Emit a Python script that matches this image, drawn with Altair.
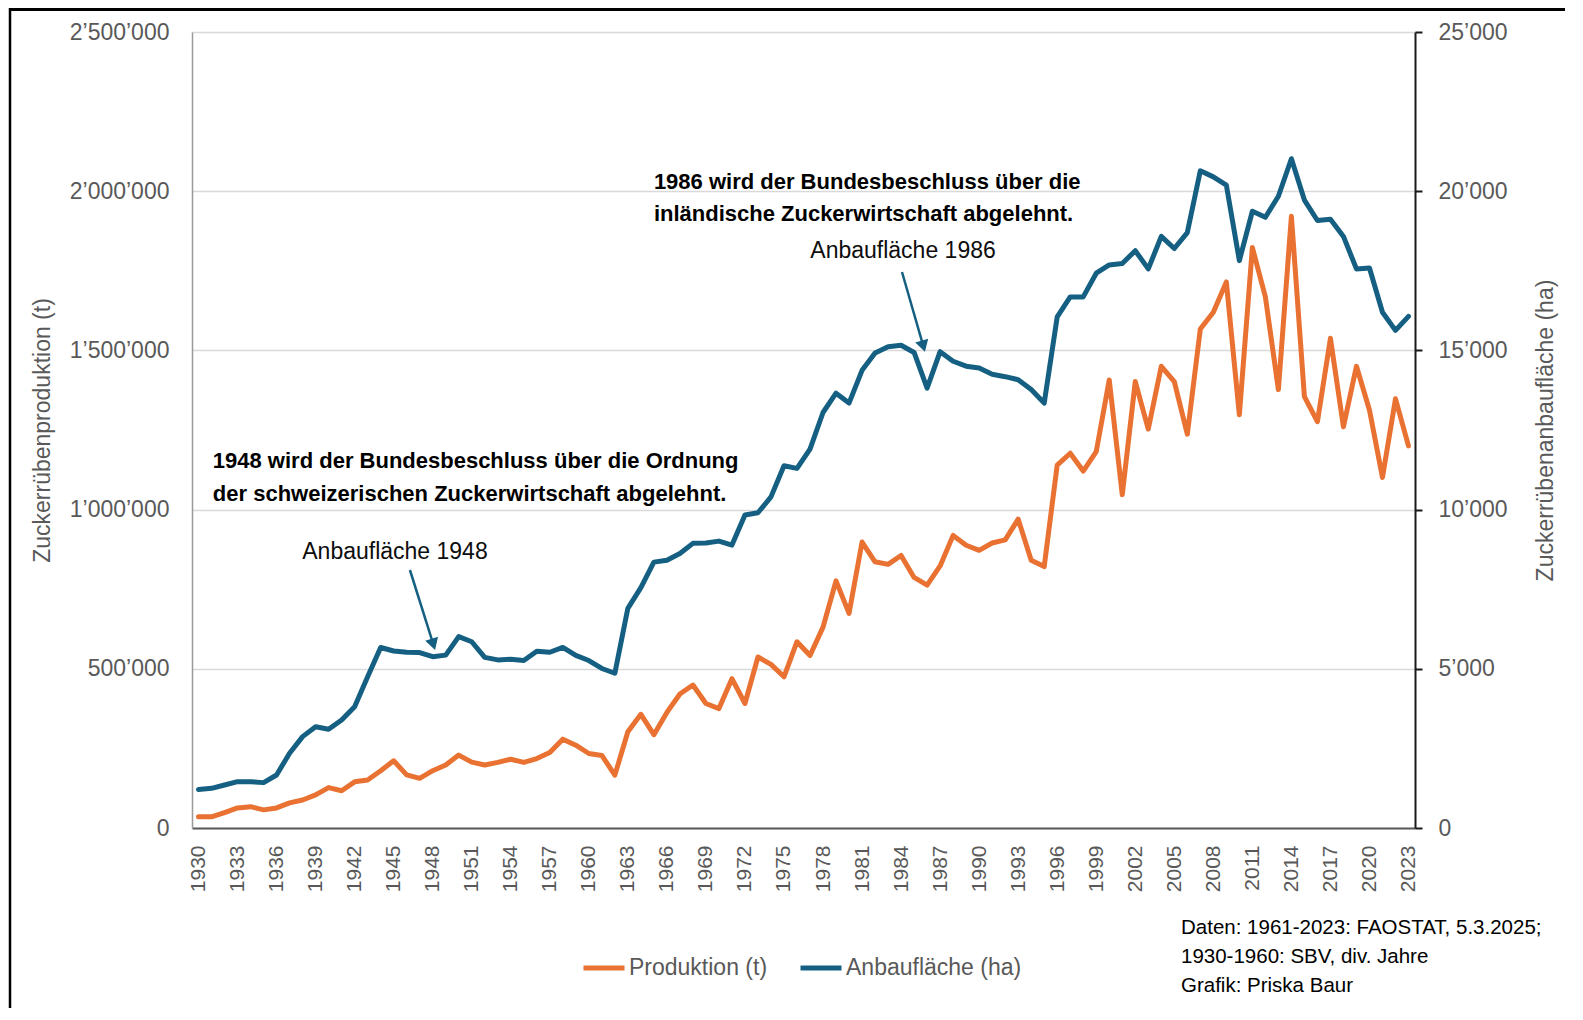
import altair as alt
import pandas as pd

# ---------------- data ----------------
years = list(range(1930, 2024))

produktion = [
    35000, 35000, 48000, 63000, 67000, 57000, 63000, 79000, 88000, 104000,
    127000, 117000, 145000, 151000, 180000, 211000, 167000, 156000, 180000, 198000,
    229000, 207000, 198000, 206000, 216000, 206000, 218000, 237000, 279000, 260000,
    234000, 228000, 166000, 302000, 357000, 293000, 363000, 421000, 449000, 391000,
    375000, 469000, 391000, 537000, 514000, 475000, 585000, 542000, 631000, 776000,
    674000, 898000, 836000, 828000, 856000, 787000, 763000, 823000, 919000, 888000,
    872000, 895000, 905000, 970000, 841000, 821000, 1140000, 1177000, 1121000, 1182000,
    1407000, 1047000, 1402000, 1253000, 1450000, 1402000, 1237000, 1567000, 1620000, 1715000,
    1298000, 1823000, 1668000, 1377000, 1921000, 1355000, 1276000, 1538000, 1260000, 1450000,
    1313000, 1101000, 1348000, 1200000,
]

anbauflaeche = [
    1210, 1245, 1350, 1455, 1455, 1425, 1665, 2350, 2870, 3180,
    3100, 3390, 3810, 4750, 5670, 5560, 5520, 5510, 5380, 5430,
    6010, 5850, 5360, 5280, 5300, 5260, 5550, 5520, 5670, 5420,
    5260, 5010, 4860, 6900, 7550, 8350, 8410, 8620, 8940, 8950,
    9010, 8885, 9830, 9900, 10400, 11375, 11295, 11900, 13050, 13655,
    13345, 14375, 14915, 15115, 15160, 14935, 13815, 14960, 14660, 14505,
    14445, 14250, 14175, 14080, 13770, 13345, 16050, 16680, 16680, 17425,
    17685, 17730, 18130, 17560, 18580, 18200, 18700, 20640, 20450, 20190,
    17820, 19370, 19180, 19840, 21020, 19720, 19080, 19120, 18580, 17560,
    17590, 16200, 15630, 16070,
]

series_names = ["Produktion (t)", "Anbaufläche (ha)"]
series_colors = ["#E97132", "#156082"]

left_ticks = [0, 500000, 1000000, 1500000, 2000000, 2500000]
right_ticks = [0, 5000, 10000, 15000, 20000, 25000]
x_ticks = list(range(1930, 2024, 3))

# annotations (data coordinates: year, tonnes on left scale)
note_years = [1931.1, 1931.1, 1965.0, 1965.0]
note_values = [1153000, 1049000, 2029000, 1928000]
note_texts = [
    "1948 wird der Bundesbeschluss über die Ordnung",
    "der schweizerischen Zuckerwirtschaft abgelehnt.",
    "1986 wird der Bundesbeschluss über die",
    "inländische Zuckerwirtschaft abgelehnt.",
]

label_years = [1945.1, 1984.15]
label_values = [866800, 1812200]
label_texts = ["Anbaufläche 1948", "Anbaufläche 1986"]

arrow_from_years = [1946.25, 1984.07]
arrow_from_values = [810300, 1746200]
arrow_to_years = [1948.05, 1985.71]
arrow_to_values = [576800, 1513200]
arrow_angles = [162.6, 164.0]

source_lines = [
    "Daten: 1961-2023: FAOSTAT, 5.3.2025;",
    "1930-1960: SBV, div. Jahre",
    "Grafik: Priska Baur",
]

# ---------------- tables ----------------
prod_df = pd.DataFrame({"Jahr": years, "Wert": produktion, "Serie": series_names[0]})
area_df = pd.DataFrame({"Jahr": years, "Wert": anbauflaeche, "Serie": series_names[1]})
notes_df = pd.DataFrame({"Jahr": note_years, "Wert": note_values, "Text": note_texts})
labels_df = pd.DataFrame({"Jahr": label_years, "Wert": label_values, "Text": label_texts})
arrows_df = pd.DataFrame({
    "Jahr": arrow_from_years, "Wert": arrow_from_values,
    "Jahr2": arrow_to_years, "Wert2": arrow_to_values, "Winkel": arrow_angles,
})

FONT = "Liberation Sans"
GREY = "#595959"
swiss = "replace(format(datum.value, ','), regexp(',', 'g'), '\u2019')"

x_scale = alt.Scale(domain=[1929.5, 2023.5], nice=False, zero=False)
y_left_scale = alt.Scale(domain=[0, 2500000], nice=False, zero=True)
y_right_scale = alt.Scale(domain=[0, 25000], nice=False, zero=True)

x_axis = alt.Axis(
    values=x_ticks, format="d", labelAngle=270, labelFontSize=21, labelColor=GREY,
    labelFont=FONT, labelPadding=17, ticks=False, grid=False, domain=True,
    domainColor=GREY, domainWidth=2, labelFlush=False, labelOverlap=False, title=None,
)

left_axis = alt.Axis(
    values=left_ticks, labelExpr=swiss, labelFontSize=23, labelColor=GREY, labelFont=FONT,
    labelPadding=23, ticks=False, tickSize=0, grid=True, gridColor="#d9d9d9", gridWidth=1.5,
    domain=True, domainColor="#9a9a9a", domainWidth=1.5, labelOverlap=False, labelFlush=False,
    title="Zuckerrübenproduktion (t)", titleFontSize=23, titleFont=FONT, titleColor=GREY,
    titleFontWeight="normal", titleAngle=270, titleX=-150, titleY=398,
    titleAlign="center", titleBaseline="middle",
)

right_axis = alt.Axis(
    values=right_ticks, labelExpr=swiss, labelFontSize=23, labelColor=GREY, labelFont=FONT,
    labelPadding=16, ticks=True, tickSize=7, tickColor="#1a1a1a", tickWidth=2, grid=False,
    domain=True, domainColor="#1a1a1a", domainWidth=2, labelOverlap=False, labelFlush=False,
    orient="right",
    title="Zuckerrübenanbaufläche (ha)", titleFontSize=23, titleFont=FONT, titleColor=GREY,
    titleFontWeight="normal", titleAngle=270, titleX=130, titleY=398,
    titleAlign="center", titleBaseline="middle",
)


def xenc(field):
    return alt.X(f"{field}:Q", scale=x_scale, axis=x_axis)


def yleft(field):
    return alt.Y(f"{field}:Q", scale=y_left_scale, axis=left_axis)


color = alt.Color(
    "Serie:N",
    scale=alt.Scale(domain=series_names, range=series_colors),
    legend=alt.Legend(
        title=None, orient="none", legendX=389, legendY=913, direction="horizontal",
        symbolType="stroke", symbolStrokeWidth=5, symbolSize=1681,
        labelFontSize=23, labelColor=GREY, labelFont=FONT, labelOffset=2,
        labelLimit=500, columnPadding=22, padding=0,
    ),
)

line_style = dict(strokeWidth=5, strokeCap="round", strokeJoin="round")

prod_line = alt.Chart(prod_df).mark_line(**line_style).encode(
    x=xenc("Jahr"),
    y=yleft("Wert"),
    color=color,
)

area_line = alt.Chart(area_df).mark_line(**line_style).encode(
    x=xenc("Jahr"),
    y=alt.Y("Wert:Q", scale=y_right_scale, axis=right_axis),
    color=color,
)

notes = alt.Chart(notes_df).mark_text(
    align="left", baseline="middle", font=FONT, fontSize=22, fontWeight="bold", color="#000000",
).encode(
    x=xenc("Jahr"),
    y=yleft("Wert"),
    text="Text:N",
)

labels = alt.Chart(labels_df).mark_text(
    align="center", baseline="middle", font=FONT, fontSize=23, color="#0d0d0d",
).encode(
    x=xenc("Jahr"),
    y=yleft("Wert"),
    text="Text:N",
)

arrow_shafts = alt.Chart(arrows_df).mark_rule(color="#156082", strokeWidth=2.5).encode(
    x=xenc("Jahr"),
    y=yleft("Wert"),
    x2="Jahr2:Q",
    y2="Wert2:Q",
)

arrow_heads = alt.Chart(arrows_df).mark_point(
    shape="triangle-up", filled=True, size=180, color="#156082", opacity=1,
).encode(
    x=xenc("Jahr2"),
    y=yleft("Wert2"),
    angle=alt.Angle("Winkel:Q", scale=None),
)

source_layers = []
for i, line in enumerate(source_lines):
    source_layers.append(
        alt.Chart(pd.DataFrame({"Text": [line]})).mark_text(
            align="left", baseline="middle", font=FONT, fontSize=20.5, color="#000000",
        ).encode(text="Text:N", x=alt.value(989), y=alt.value(896 + i * 29))
    )

frame_df = pd.DataFrame({"k": [0]})
frame_left = alt.Chart(frame_df).mark_rule(color="#000000", strokeWidth=2.5).encode(
    x=alt.value(-182), y=alt.value(-24), y2=alt.value(976)
)
frame_top = alt.Chart(frame_df).mark_rule(color="#000000", strokeWidth=3).encode(
    x=alt.value(-182), x2=alt.value(1373), y=alt.value(-22.5)
)

left_layer = alt.layer(
    prod_line, notes, labels, arrow_shafts, arrow_heads, frame_left, frame_top, *source_layers
)

chart = (
    alt.layer(left_layer, area_line)
    .resolve_scale(y="independent")
    .properties(
        width=1223,
        height=796,
        padding={"left": 184, "top": 24, "right": 150, "bottom": 180},
        autosize=alt.AutoSizeParams(type="none"),
        background="#ffffff",
    )
    .configure_view(strokeWidth=0)
)

chart.save("out.html", embed_options={"renderer": "svg", "actions": False})
